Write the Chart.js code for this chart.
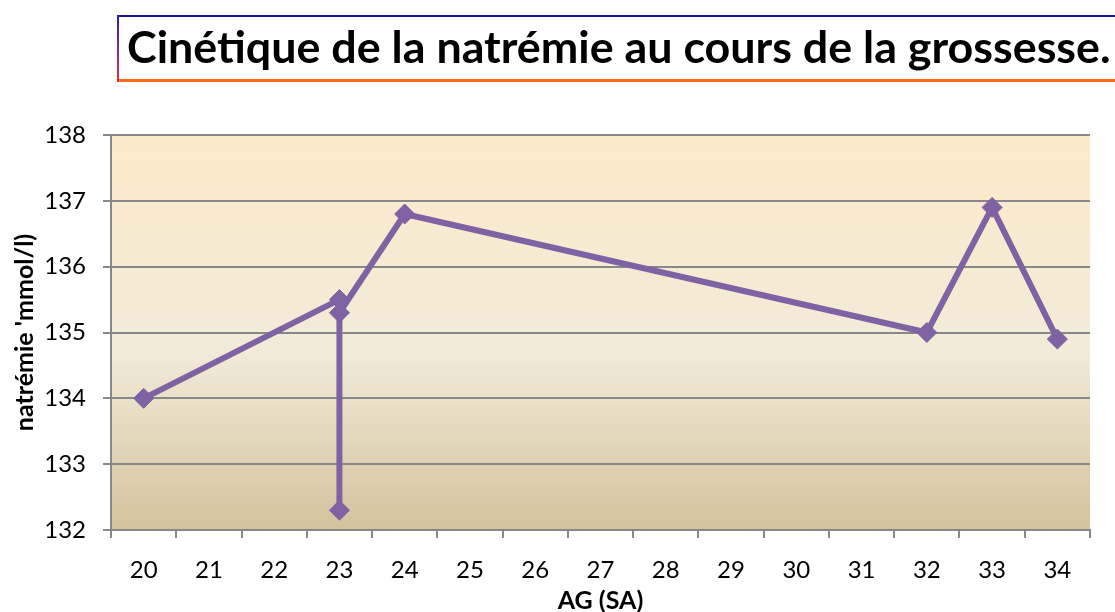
<!DOCTYPE html>
<html>
<head>
<meta charset="utf-8">
<script src="https://cdn.jsdelivr.net/npm/chart.js@4.4.1/dist/chart.umd.min.js"></script>
<style>
html,body{margin:0;padding:0;background:#fff;overflow:hidden;width:1115px;height:612px;}
#wrap{position:relative;width:1115px;height:612px;}
#c{position:absolute;left:0;top:0;}
#tbox{position:absolute;left:117px;top:15px;width:1100px;height:67px;border-top:2px solid #1a1590;border-bottom:3px solid #ff6a18;box-sizing:border-box;}
#tleft{position:absolute;left:117px;top:15px;width:2px;height:67px;background:linear-gradient(#2b1ea8,#8a2a9a 50%,#ee2a2a);}
#title{position:absolute;left:127px;top:0;font-family:Lato,"Open Sans",sans-serif;font-weight:bold;white-space:nowrap;line-height:1;color:#000;font-size:40px;}
#base{display:inline-block;width:0;height:0;vertical-align:baseline;}
</style>
</head>
<body>
<div id="wrap">
  <canvas id="c" width="1115" height="612"></canvas>
  <div id="tbox"></div>
  <div id="tleft"></div>
  <div id="title"><span id="ttext">Cinétique de la natrémie au cours de la grossesse.</span><span id="base"></span></div>
</div>
<script>
// ---- data ----
const categories = ['20','21','22','23','24','25','26','27','28','29','30','31','32','33','34'];
const agSA = ['20','23','23','23','24','32','33','34'];
const natremie = [134, 135.5, 132.3, 135.3, 136.8, 135.0, 136.9, 134.9];
const yTicks = [132, 133, 134, 135, 136, 137, 138];
const titleText = 'Cinétique de la natrémie au cours de la grossesse.';
const yTitle = "natrémie 'mmol/l)";
const xTitle = 'AG (SA)';

// ---- title fitting ----
function fitTitle(){
  const t = document.getElementById('title');
  const tt = document.getElementById('ttext');
  tt.textContent = titleText;
  t.style.fontSize = '40px';
  const w = tt.getBoundingClientRect().width;
  t.style.fontSize = (40 * 984 / w) + 'px';
  t.style.top = '0px';
  const b = document.getElementById('base').getBoundingClientRect().top;
  const top = t.getBoundingClientRect().top;
  t.style.top = (63 - (b - top)) + 'px';
}
fitTitle();

const lineColor = '#7e62a3';
const gridColor = '#888888';

const bgPlugin = {
  id: 'plotBg',
  beforeDraw(chart){
    const {ctx, chartArea:{left, top, right, bottom}} = chart;
    const g = ctx.createLinearGradient(0, top, 0, bottom);
    g.addColorStop(0, '#fdebcb');
    g.addColorStop(0.55, '#f1ebd8');
    g.addColorStop(1, '#d3c39d');
    ctx.save();
    ctx.fillStyle = g;
    ctx.fillRect(left, top, right - left, bottom - top);
    ctx.restore();
  }
};

new Chart(document.getElementById('c'), {
  type: 'line',
  data: {
    labels: categories,
    datasets: [{
      data: agSA.map((x, i) => ({x: x, y: natremie[i]})),
      borderColor: lineColor,
      backgroundColor: lineColor,
      borderWidth: 6,
      borderJoinStyle: 'round',
      borderCapStyle: 'round',
      pointStyle: 'rectRot',
      pointRadius: 10,
      pointBorderWidth: 1,
      pointBackgroundColor: lineColor,
      pointBorderColor: lineColor,
      tension: 0
    }]
  },
  options: {
    responsive: false,
    animation: false,
    layout: {padding: {top: 135, right: 25, left: 0, bottom: 0}},
    plugins: {legend: {display: false}, tooltip: {enabled: false}, title: {display: false}},
    scales: {
      x: {
        type: 'category',
        offset: true,
        grid: {display: true, drawOnChartArea: false, drawTicks: true, tickLength: 8, offset: true, color: gridColor, lineWidth: 2},
        border: {display: true, color: gridColor, width: 2},
        ticks: {color: '#000', font: {family: 'Lato', size: 24}, padding: 18, maxRotation: 0, autoSkip: false},
        title: {display: true, text: xTitle, color: '#000', font: {family: 'Lato', size: 25, weight: 'bold', lineHeight: 1}, padding: {top: 0, bottom: -1}},
        afterFit(s){ s.height = 82; }
      },
      y: {
        min: 132, max: 138,
        afterBuildTicks(s){ s.ticks = yTicks.map(v => ({value: v})); },
        grid: {display: true, drawTicks: true, tickLength: 8, color: gridColor, lineWidth: 2},
        border: {display: true, color: gridColor, width: 2},
        ticks: {color: '#000', font: {family: 'Lato', size: 24}, padding: 17, stepSize: 1},
        title: {display: true, text: yTitle, color: '#000', font: {family: 'Lato', size: 25, weight: 'bold', lineHeight: 1.2}, padding: {top: 10, bottom: 0}},
        afterFit(s){ s.width = 111; }
      }
    }
  },
  plugins: [bgPlugin]
});
</script>
</body>
</html>
